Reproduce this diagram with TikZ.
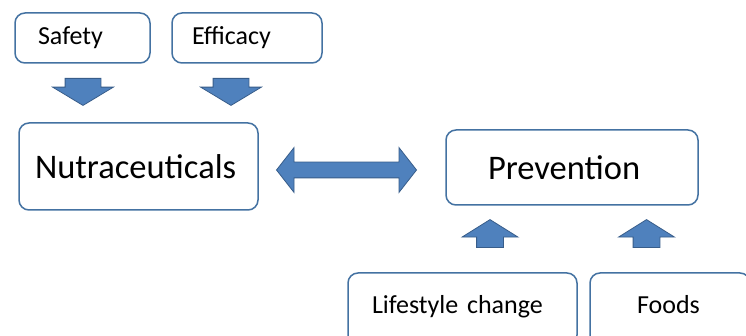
\documentclass[tikz,border=0pt]{standalone}
\usepackage{fontspec}
\setmainfont{Carlito}
\usepackage{tikz}
\usetikzlibrary{shapes.arrows, positioning}
\definecolor{boxline}{RGB}{68,114,162}
\definecolor{arrowfill}{RGB}{79,129,189}
\definecolor{arrowline}{RGB}{56,93,138}
\tikzstyle{box} = [rectangle, draw=boxline, line width=1.5pt, rounded corners=10pt, fill=white, align=left, inner ysep=0pt]
\tikzstyle{smalltext} = [font=\fontsize{26}{30}\selectfont]
\tikzstyle{bigtext} = [font=\fontsize{34.5}{40}\selectfont]
\tikzstyle{downarrow} = [single arrow, draw=arrowline, fill=arrowfill, line width=0.8pt, rotate=-90, anchor=tail, inner xsep=0pt, inner ysep=17.5pt, single arrow head extend=12.5pt, single arrow tip angle=118, minimum height=27pt]
\tikzstyle{uparrow} = [single arrow, draw=arrowline, fill=arrowfill, line width=0.8pt, rotate=90, anchor=tail, inner xsep=0pt, inner ysep=13pt, single arrow head extend=14.5pt, single arrow tip angle=116, minimum height=28pt]
\tikzstyle{botharrow} = [double arrow, draw=arrowline, fill=arrowfill, line width=0.8pt, inner xsep=0pt, inner ysep=7.5pt, double arrow head extend=14.5pt, double arrow tip angle=104, minimum height=140pt]

\begin{document}
\begin{tikzpicture}[x=1pt, y=-1pt]
	\clip (0,0) rectangle (746,336);
	\fill[white] (0,0) rectangle (746,336);

	% Inputs on top
	\node (safety) [box, smalltext, minimum height=50pt, inner xsep=23pt, text width=89pt] at (82.5,38) {Safety};
	\node (efficacy) [box, smalltext, minimum height=50pt, inner xsep=20pt, text width=110pt] at (247,38) {Efficacy};

	% Main boxes
	\node (nutra) [box, bigtext, minimum height=87pt, inner xsep=16pt, text width=207pt] at (138.5,166.5) {Nutraceuticals};
	\node (prevention) [box, bigtext, minimum height=75pt, inner xsep=42pt, text width=168pt] at (572,167.5) {Prevention};

	% Inputs at the bottom
	\node (lifestyle) [box, smalltext, minimum height=72pt, inner xsep=24pt, text width=181pt] at (462.5,309) {\raisebox{10pt}{Lifestyle change}};
	\node (foods) [box, smalltext, minimum height=72pt, inner xsep=47pt, text width=66pt] at (670,309) {\raisebox{10pt}{Foods}};

	% Block arrows
	\node (safety_arrow) [downarrow] at (83,78) {};
	\node (efficacy_arrow) [downarrow] at (231,78) {};
	\node (link_arrow) [botharrow] at (346.5,170) {};
	\node (lifestyle_arrow) [uparrow] at (490,248) {};
	\node (foods_arrow) [uparrow] at (646.5,248) {};

\end{tikzpicture}
\end{document}
